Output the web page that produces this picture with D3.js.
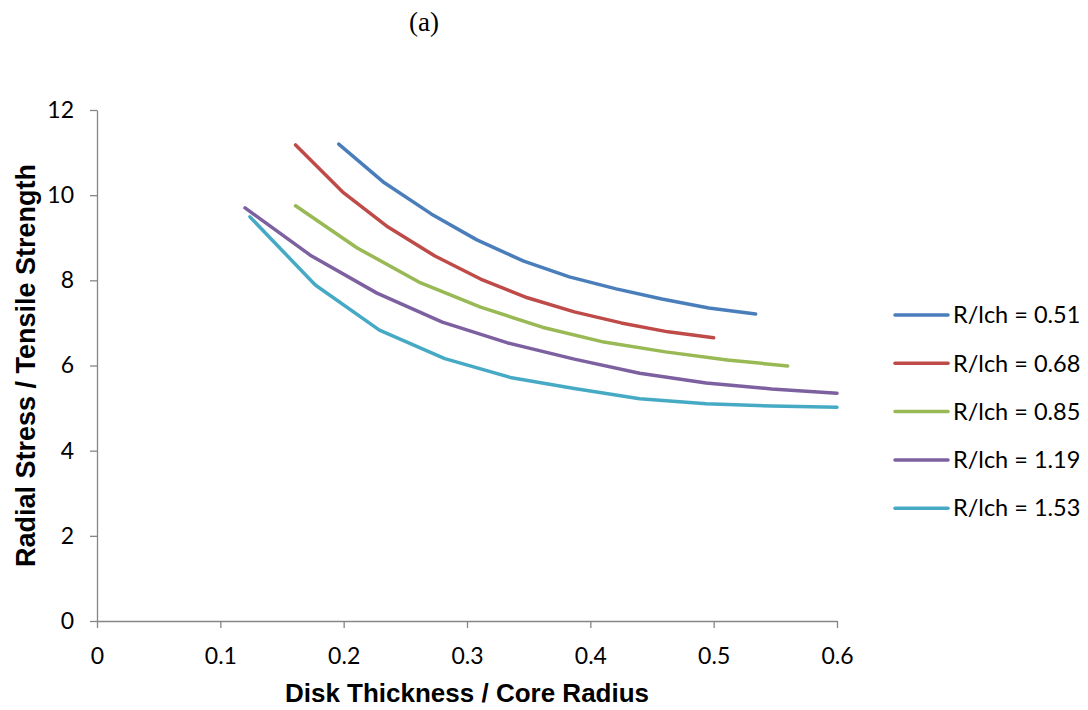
<!DOCTYPE html>
<html>
<head>
<meta charset="utf-8">
<script src="https://cdn.jsdelivr.net/npm/d3@7"></script>
<style>
  body { margin: 0; background: #fff; }
  text { fill: #000; }
</style>
</head>
<body>
<script>
// series labels and colours (Excel defaults)
let seriesNames = ["R/lch = 0.51", "R/lch = 0.68", "R/lch = 0.85", "R/lch = 1.19", "R/lch = 1.53"];
let seriesColors = ["#4A7EBB", "#BE4B48", "#98B954", "#7D60A0", "#46AAC5"];

// values (x = disk thickness / core radius, y = radial stress / tensile strength)
let x051 = [0.196, 0.233, 0.271, 0.308, 0.346, 0.383, 0.421, 0.458, 0.496, 0.534];
let y051 = [11.20, 10.29, 9.56, 8.95, 8.45, 8.08, 7.80, 7.56, 7.35, 7.21];
let x068 = [0.161, 0.199, 0.236, 0.274, 0.311, 0.349, 0.387, 0.425, 0.463, 0.500];
let y068 = [11.18, 10.08, 9.25, 8.57, 8.03, 7.59, 7.26, 7.00, 6.79, 6.65];
let x085 = [0.161, 0.211, 0.261, 0.311, 0.361, 0.411, 0.461, 0.511, 0.560];
let y085 = [9.75, 8.76, 7.96, 7.37, 6.90, 6.55, 6.32, 6.13, 5.99];
let x119 = [0.120, 0.174, 0.227, 0.280, 0.333, 0.387, 0.440, 0.494, 0.547, 0.600];
let y119 = [9.70, 8.57, 7.70, 7.02, 6.53, 6.15, 5.82, 5.59, 5.45, 5.35];
let x153 = [0.124, 0.177, 0.229, 0.282, 0.335, 0.387, 0.440, 0.494, 0.547, 0.600];
let y153 = [9.49, 7.89, 6.83, 6.16, 5.72, 5.46, 5.22, 5.10, 5.05, 5.02];

let xTicks = [0, 0.1, 0.2, 0.3, 0.4, 0.5, 0.6];
let yTicks = [0, 2, 4, 6, 8, 10, 12];

let series = [[x051, y051], [x068, y068], [x085, y085], [x119, y119], [x153, y153]]
  .map((s, i) => ({ name: seriesNames[i], color: seriesColors[i],
                    values: s[0].map((x, j) => ({ x: x, y: s[1][j] })) }));

let svgWidth = 1088;
let svgHeight = 710;
let margin = { top: 110, left: 97 };
let width = 740;   // 0 .. 0.6
let height = 511;  // 0 .. 12

let svg = d3.select("body")
  .append("svg")
  .attr("width", svgWidth)
  .attr("height", svgHeight);

// caption on top
svg.append("text")
  .attr("x", 424)
  .attr("y", 31)
  .attr("text-anchor", "middle")
  .style("font-family", "Liberation Serif")
  .style("font-size", "27px")
  .text("(a)");

let canvas = svg.append("g")
  .attr("transform", "translate(" + margin.left + "," + margin.top + ")");

let xscale = d3.scaleLinear().domain([0, 0.6]).range([0, width]);
let yscale = d3.scaleLinear().domain([0, 12]).range([height, 0]);

// axes
let xAxis = d3.axisBottom(xscale)
  .tickValues(xTicks)
  .tickSize(7)
  .tickSizeOuter(0)
  .tickPadding(20)
  .tickFormat(d => d === 0 ? "0" : d3.format(".1f")(d));
let yAxis = d3.axisLeft(yscale)
  .tickValues(yTicks)
  .tickSize(7)
  .tickSizeOuter(0)
  .tickPadding(16);

let gx = canvas.append("g")
  .attr("transform", "translate(0," + height + ")")
  .call(xAxis);
let gy = canvas.append("g").call(yAxis);

[gx, gy].forEach(g => {
  g.select(".domain").attr("stroke", "#868686").attr("stroke-width", 1.3);
  g.selectAll(".tick line").attr("stroke", "#868686").attr("stroke-width", 1.3);
  g.selectAll(".tick text")
    .style("font-family", "Lato")
    .style("font-size", "23px")
    .attr("fill", "#000");
});

// axis titles
canvas.append("text")
  .attr("x", xscale(0.3))
  .attr("y", height + 81)
  .attr("text-anchor", "middle")
  .style("font-family", "Liberation Sans")
  .style("font-weight", "bold")
  .style("font-size", "26px")
  .text("Disk Thickness / Core Radius");

canvas.append("text")
  .attr("transform", "translate(-62," + yscale(6) + ") rotate(-90)")
  .attr("text-anchor", "middle")
  .style("font-family", "Liberation Sans")
  .style("font-weight", "bold")
  .style("font-size", "27px")
  .text("Radial Stress / Tensile Strength");

// lines
let line = d3.line()
  .x(d => xscale(d.x))
  .y(d => yscale(d.y));

canvas.selectAll("path.series")
  .data(series)
  .enter()
  .append("path")
    .attr("class", "series")
    .attr("d", d => line(d.values))
    .attr("fill", "none")
    .attr("stroke", d => d.color)
    .attr("stroke-width", 3.5)
    .attr("stroke-linecap", "round")
    .attr("stroke-linejoin", "round");

// legend
let legend = svg.append("g")
  .attr("transform", "translate(895,315)");
let items = legend.selectAll("g")
  .data(series)
  .enter()
  .append("g")
    .attr("transform", (d, i) => "translate(0," + (i * 48.3) + ")");
items.append("line")
  .attr("x1", 0).attr("x2", 53)
  .attr("stroke", d => d.color)
  .attr("stroke-width", 3.5)
  .attr("stroke-linecap", "round");
items.append("text")
  .attr("x", 58)
  .attr("dy", "0.35em")
  .style("font-family", "Lato")
  .style("font-size", "23.5px")
  .text(d => d.name);
</script>
</body>
</html>
